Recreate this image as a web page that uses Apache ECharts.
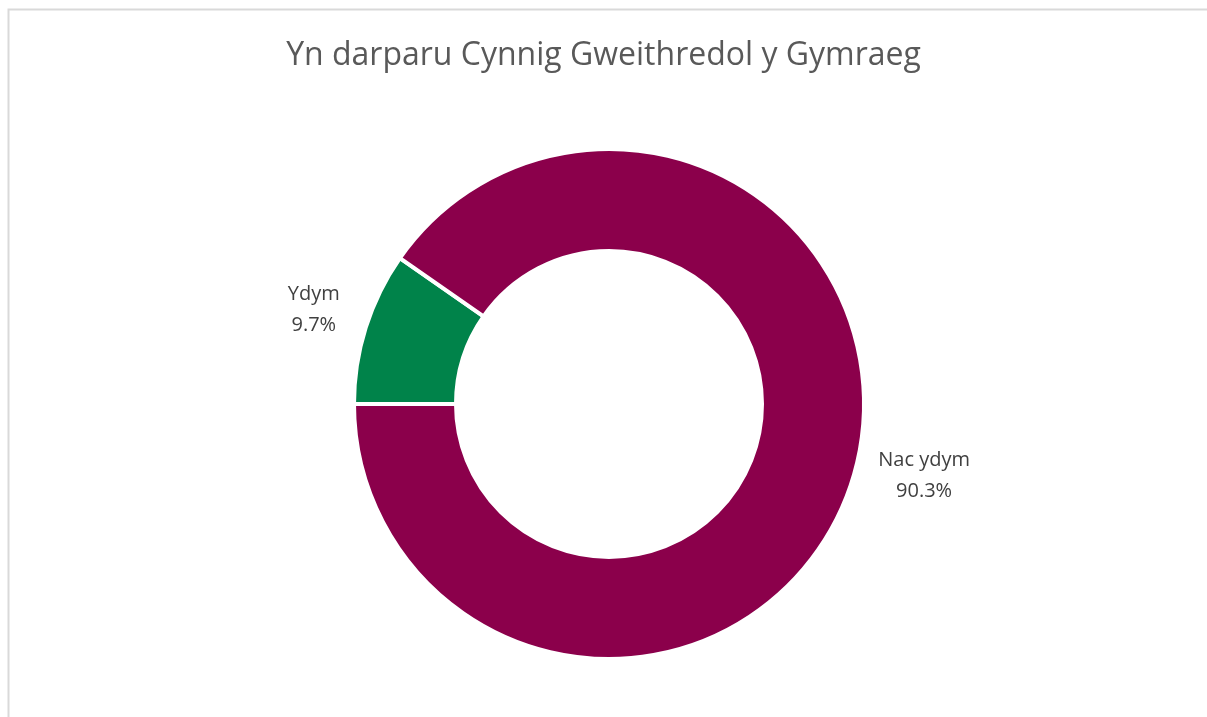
<!DOCTYPE html>
<html>
	<head>
		<meta charset="utf-8">
		<title></title>
		<script src='https://cdn.jsdelivr.net/npm/echarts@6.0.0/dist/echarts.min.js'></script>
		<style>
			body{ margin: 0; background: #fff; }
			#chart{
				width: 1207px;
				height: 717px;
			}
		</style>
	</head>
	<body>
		<div id="chart"></div>
		<script>
            // answers and their shares (%)
            const categories = ['Ydym', 'Nac ydym'];
            const shares = [9.7, 90.3];
            const colors = ['#00834A', '#8B004B'];

            const chart = echarts.init(document.getElementById('chart'), null, {renderer: 'canvas'});
            const option = {
                backgroundColor: '#fff',
                title: {
                    text: 'Yn darparu Cynnig Gweithredol y Gymraeg',
                    left: 'center',
                    top: 35,
                    textStyle: {
                        fontFamily: 'Open Sans',
                        fontSize: 32,
                        fontWeight: 'normal',
                        color: '#595959'
                    }
                },
                graphic: [{
                    type: 'rect',
                    shape: {x: 8.5, y: 9.5, width: 1300, height: 800},
                    style: {fill: null, stroke: '#d9d9d9', lineWidth: 2},
                    silent: true
                }],
                series: [{
                    type: 'pie',
                    center: [609, 404],
                    radius: [153, 255],
                    startAngle: 180,
                    clockwise: true,
                    avoidLabelOverlap: false,
                    itemStyle: {borderColor: '#fff', borderWidth: 4},
                    label: {
                        show: true,
                        position: 'outside',
                        fontFamily: 'Open Sans',
                        fontSize: 20,
                        lineHeight: 31,
                        color: '#404040',
                        formatter: p => p.name + '\n' + p.value.toFixed(1) + '%'
                    },
                    labelLine: {show: false, length: 22, length2: 0},
                    labelLayout: function (params) {
                        const r = params.labelRect;
                        // centre the two lines on each other, a bit higher like Excel
                        return {
                            x: r.x + r.width / 2,
                            y: r.y + r.height / 2 - 11,
                            align: 'center',
                            verticalAlign: 'middle'
                        };
                    },
                    emphasis: {disabled: true},
                    data: categories.map((c, i) => ({
                        name: c,
                        value: shares[i],
                        itemStyle: {color: colors[i]}
                    }))
                }]
            };
            chart.setOption(option);
		</script>
	</body>
</html>
